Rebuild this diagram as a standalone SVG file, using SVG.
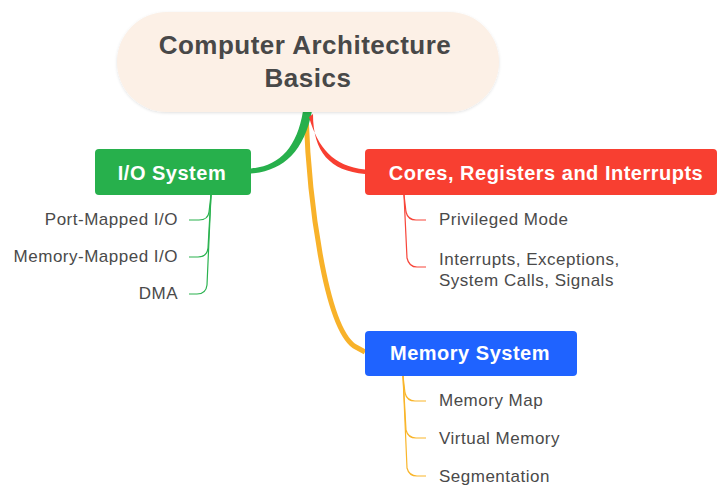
<svg xmlns="http://www.w3.org/2000/svg" width="717" height="489" viewBox="0 0 717 489">
<defs>
<filter id="sh" x="-10%" y="-20%" width="120%" height="150%">
<feDropShadow dx="0" dy="1" stdDeviation="1.5" flood-color="#000" flood-opacity="0.12"/>
</filter>
<style>
.title{font-family:"Liberation Sans",Arial,sans-serif;font-weight:bold;font-size:26px;fill:#484848;text-anchor:middle;letter-spacing:0.5px}
.main{font-family:"Liberation Sans",Arial,sans-serif;font-weight:bold;font-size:20px;fill:#fff;text-anchor:middle;letter-spacing:0.5px}
.sub{font-family:"Liberation Sans",Arial,sans-serif;font-size:17px;fill:#4a4a4a;letter-spacing:0.5px}
.gl{fill:none;stroke:#2ab24f;stroke-width:1.2}
.rl{fill:none;stroke:#f7463a;stroke-width:1.2}
.ol{fill:none;stroke:#f9b52a;stroke-width:1.2}
</style>
</defs>
<rect width="717" height="489" fill="#fff"/>
<g id="connectors">
<path d="M306,115 C309,200 325,325 354,346 L365,352" fill="none" stroke="#f8b22a" stroke-width="5" stroke-linejoin="round"/>
<path d="M303,111 C297,148 279,166 251,168.5 L251,173.5 C283,171 304,152 312,111 Z" fill="#27b04c"/>
<path d="M309,117 C318,148 333,166 365,169.5 L365,174 C330,171 313,152 313,114 Z" fill="#f83f31"/>
<path class="gl" d="M211,195 L209,212 Q208,220 199,220 L189,220"/>
<path class="gl" d="M211,195 L208,248 Q207,257 198,257 L189,257"/>
<path class="gl" d="M211,195 L207,285 Q206,294 197,294 L189,294"/>
<path class="rl" d="M404,195 L406,212 Q408,220 416,220 L426,220"/>
<path class="rl" d="M404,195 L407,258 Q409,267 417,267 L426,267"/>
<path class="ol" d="M403,376 L405,393 Q407,401 415,401 L426,401"/>
<path class="ol" d="M403,376 L406,430 Q408,438 416,438 L426,438"/>
<path class="ol" d="M403,376 L407,468 Q409,476 417,476 L426,476"/>
</g>
<g id="root">
<rect x="117" y="12" width="382" height="100" rx="50" fill="#fcf0e6" filter="url(#sh)"/>
<text class="title" x="305" y="54">Computer Architecture</text>
<text class="title" x="308" y="87">Basics</text>
</g>
<g id="io">
<rect x="95" y="149" width="156" height="46" rx="4" fill="#27b04c"/>
<text class="main" x="172" y="180">I/O System</text>
</g>
<g id="cores">
<rect x="365" y="149" width="352" height="46" rx="4" fill="#f83f31"/>
<text class="main" x="546" y="180">Cores, Registers and Interrupts</text>
</g>
<g id="mem">
<rect x="365" y="331" width="212" height="45" rx="4" fill="#1f63ff"/>
<text class="main" x="470" y="360">Memory System</text>
</g>
<g id="io-children">
<text class="sub" x="178" y="225" text-anchor="end">Port-Mapped I/O</text>
<text class="sub" x="178" y="262" text-anchor="end">Memory-Mapped I/O</text>
<text class="sub" x="178" y="299" text-anchor="end">DMA</text>
</g>
<g id="cores-children">
<text class="sub" x="439" y="225">Privileged Mode</text>
<text class="sub" x="439" y="265">Interrupts, Exceptions,</text>
<text class="sub" x="439" y="286">System Calls, Signals</text>
</g>
<g id="mem-children">
<text class="sub" x="439" y="406">Memory Map</text>
<text class="sub" x="439" y="444">Virtual Memory</text>
<text class="sub" x="439" y="482">Segmentation</text>
</g>
</svg>
